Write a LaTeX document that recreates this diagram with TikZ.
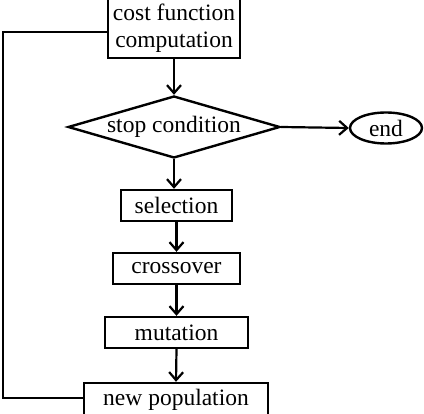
\documentclass[tikz,border=0pt]{standalone}
\usepackage{fontspec}
\setmainfont{Liberation Serif}
\usetikzlibrary{shapes.geometric,arrows.meta}
\tikzset{
  box/.style={draw,line width=2.4pt,rectangle,inner sep=0pt,minimum height=31pt,font=\fontsize{23.5}{27}\selectfont},
  dia/.style={draw,line width=2.4pt,diamond,aspect=3.42,inner sep=0pt,minimum width=212pt,minimum height=62pt,font=\fontsize{23.5}{27}\selectfont},
  term/.style={draw,line width=2.4pt,ellipse,inner sep=0pt,minimum width=72pt,minimum height=31pt,font=\fontsize{23.5}{27}\selectfont},
  conn/.style={line width=2.2pt,-{Straight Barb[length=8pt,width=14pt,line width=2.2pt]}},
  loop/.style={line width=2.4pt}
}
\begin{document}
\begin{tikzpicture}[x=1pt,y=-1pt]
\useasboundingbox (0,0) rectangle (424,414);
\node[box,minimum width=132pt,minimum height=59pt,align=center] (cost) at (174,28.5) {cost function\\computation};
\node[dia] (stop) at (174,127) {stop condition};
\node[term] (end) at (386,128) {end};
\node[box,minimum width=111pt] (sel) at (176.5,205.5) {selection};
\node[box,minimum width=127pt] (cross) at (176.5,268.5) {crossover};
\node[box,minimum width=143pt] (mut) at (176.5,332.5) {mutation};
\node[box,minimum width=184pt,minimum height=33pt] (newpop) at (176,399.5) {new population};
\coordinate (lb) at (3,398);
\coordinate (lt) at (3,32);
\draw[conn] (cost.south) -- (stop.north);
\draw[conn] (stop.east) -- (end.west);
\draw[conn] (stop.south) -- (stop.south |- sel.north);
\draw[conn] (sel.south) -- (cross.north);
\draw[conn] (cross.south) -- (mut.north);
\draw[conn] (mut.south) -- (newpop.north);
\draw[loop] (newpop.west |- lb) -- (lb) -- (lt) -- (cost.west |- lt);
\end{tikzpicture}
\end{document}
